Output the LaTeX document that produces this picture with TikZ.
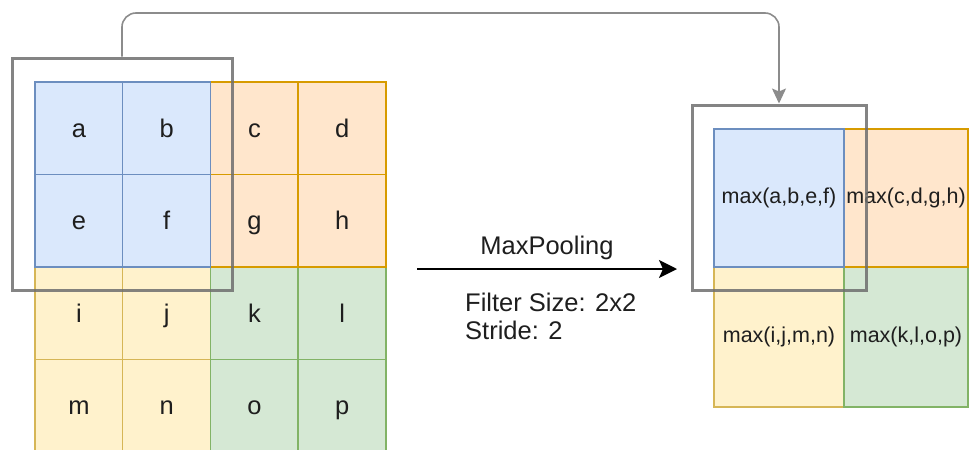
\documentclass[tikz,border=0pt]{standalone}
\usepackage{fontspec}
\setmainfont{Liberation Sans}
\usetikzlibrary{arrows.meta}

\definecolor{bluefill}{HTML}{DAE8FC}\definecolor{bluedraw}{HTML}{6C8EBF}
\definecolor{orangefill}{HTML}{FFE6CC}\definecolor{orangedraw}{HTML}{D79B00}
\definecolor{yellowfill}{HTML}{FFF2CC}\definecolor{yellowdraw}{HTML}{D6B656}
\definecolor{greenfill}{HTML}{D5E8D4}\definecolor{greendraw}{HTML}{82B366}
\definecolor{inkcol}{HTML}{1E1E1E}
\definecolor{framecol}{HTML}{6E6E6E}
\definecolor{linkcol}{HTML}{8C8C8C}

\tikzset{
  incell/.style={draw, line width=1.5pt, inner sep=0pt,
    minimum width=87.75pt, minimum height=92.5pt,
    text=inkcol, font=\fontsize{25.5}{30}\selectfont,
    text depth=-6pt},
  outcell/.style={draw, line width=1.5pt, inner sep=0pt,
    text=inkcol, font=\fontsize{21.5}{26}\selectfont},
  cblue/.style={fill=bluefill, draw=bluedraw},
  corange/.style={fill=orangefill, draw=orangedraw},
  cyellow/.style={fill=yellowfill, draw=yellowdraw},
  cgreen/.style={fill=greenfill, draw=greendraw},
  poolframe/.style={draw=framecol, draw opacity=0.85, line width=3pt,
    inner sep=0pt},
  link/.style={draw=linkcol, line width=1.6pt, rounded corners=14pt,
    -{Stealth[length=15pt,width=14pt,inset=3pt,fill=linkcol]}},
  mainarrow/.style={draw=black, line width=2pt,
    -{Stealth[length=18pt,width=18pt,inset=4pt]}},
  caption/.style={inner sep=0pt, text=inkcol,
    font=\fontsize{25.5}{28}\selectfont},
}

\begin{document}
\begin{tikzpicture}[x=1pt, y=-1pt]
\useasboundingbox (0,0) rectangle (970,450);
\begin{scope}
\clip (0,0) rectangle (970,450);

% input feature map, 4x4 (letters sit a little below the cell centre)
\begin{scope}[every node/.append style={text height=18pt, text depth=0pt}]
\node[incell, cyellow] (ci) at (78.9,313.25) {i};
\node[incell, cyellow] (cj) at (166.6,313.25) {j};
\node[incell, cyellow] (cm) at (78.9,405.75) {m};
\node[incell, cyellow] (cn) at (166.6,405.75) {n};
\node[incell, cgreen] (ck) at (254.4,313.25) {k};
\node[incell, cgreen] (cl) at (342.1,313.25) {l};
\node[incell, cgreen] (co) at (254.4,405.75) {o};
\node[incell, cgreen] (cp) at (342.1,405.75) {p};
\node[incell, corange] (cc) at (254.4,128.25) {c};
\node[incell, corange] (cd) at (342.1,128.25) {d};
\node[incell, corange] (cg) at (254.4,220.75) {g};
\node[incell, corange] (ch) at (342.1,220.75) {h};
\node[incell, cblue] (ca) at (78.9,128.25) {a};
\node[incell, cblue] (cb) at (166.6,128.25) {b};
\node[incell, cblue] (ce) at (78.9,220.75) {e};
\node[incell, cblue] (cf) at (166.6,220.75) {f};
\end{scope}

% 2x2 pooling window on the input
\node[poolframe, minimum width=220pt, minimum height=232pt] (fl) at (122,174) {};

% pooled output, 2x2
\node[outcell, cyellow, minimum width=130pt, minimum height=140pt] (oij) at (779,337) {max(i,j,m,n)};
\node[outcell, cgreen, minimum width=124pt, minimum height=140pt] (okl) at (906,337) {max(k,l,o,p)};
\node[outcell, corange, minimum width=124pt, minimum height=138pt] (ocd) at (906,198) {max(c,d,g,h)};
\node[outcell, cblue, minimum width=130pt, minimum height=138pt] (oab) at (779,198) {max(a,b,e,f)};

% window position on the output
\node[poolframe, minimum width=174pt, minimum height=185pt] (fr) at (779,197.5) {};

% window mapping
\coordinate (bend) at (450,13);
\draw[link] (fl.north) |- (bend) -| (fr.north);

% operation arrow and its labels
\coordinate (as) at (417,269);
\coordinate (ae) at (677,269);
\draw[mainarrow] (as) -- (ae);
\node[caption] (lbl) at (547,248) {MaxPooling};
\node[caption, anchor=west] (fs) at (465,302) {Filter Size: 2x2};
\node[caption, anchor=west] (st) at (465,330) {Stride: 2};
\end{scope}
\end{tikzpicture}
\end{document}
